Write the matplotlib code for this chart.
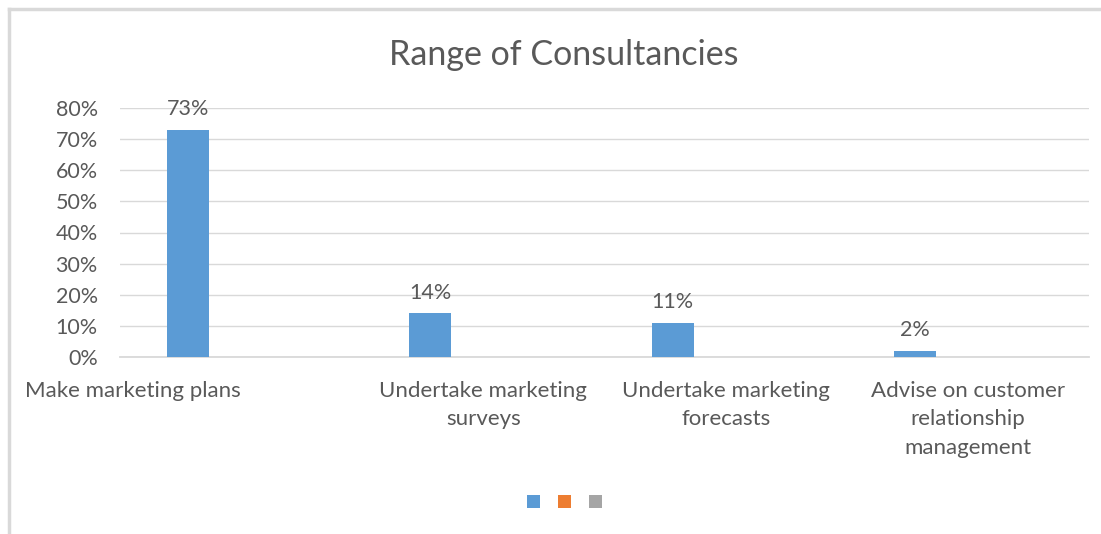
import numpy as np
import matplotlib
matplotlib.use("Agg")
from matplotlib import pyplot as plt
from matplotlib.lines import Line2D
from matplotlib.patches import Rectangle

plt.rcParams['font.family'] = ['Lato', 'DejaVu Sans']

categories = ['Make marketing plans',
              'Undertake marketing\nsurveys',
              'Undertake marketing\nforecasts',
              'Advise on customer\nrelationship\nmanagement']
values = [0.73, 0.14, 0.11, 0.02]
value_labels = ['73%', '14%', '11%', '2%']
yticks = [0, 0.1, 0.2, 0.3, 0.4, 0.5, 0.6, 0.7, 0.8]
ytick_labels = ['0%', '10%', '20%', '30%', '40%', '50%', '60%', '70%', '80%']
legend_colors = ['#5b9bd5', '#ed7d31', '#a5a5a5']

text_color = '#595959'
grid_color = '#d9d9d9'

fig = plt.figure(figsize=(11.01, 5.34), dpi=100)
ax = fig.add_axes([120 / 1101, 1 - 357 / 534, (1089 - 120) / 1101, (357 - 108) / 534])

x = np.arange(len(categories))
bar_w = 42 / 242
offset = -53 / 242
ax.bar(x + offset, values, width=bar_w, color=legend_colors[0], zorder=3)

for xi, v, lab in zip(x, values, value_labels):
    ax.text(xi + offset, v + 0.035, lab, ha='center', va='bottom',
            fontsize=15.5, color=text_color)

ax.set_xlim(-0.5, len(categories) - 0.5)
ax.set_ylim(0, 0.8)
ax.set_yticks(yticks)
ax.set_yticklabels(ytick_labels, fontsize=15.5, color=text_color)
ax.set_xticks(x)
ax.set_xticklabels(categories, fontsize=16, color=text_color, linespacing=1.55)
ax.get_xticklabels()[0].set_horizontalalignment('right')

ax.tick_params(axis='both', length=0)
ax.tick_params(axis='y', pad=16)
ax.tick_params(axis='x', pad=17)
ax.grid(axis='y', color=grid_color, linewidth=1, zorder=0)
for s in ['top', 'right', 'left']:
    ax.spines[s].set_visible(False)
ax.spines['bottom'].set_color(grid_color)
ax.spines['bottom'].set_linewidth(1.3)

fig.text(564 / 1101, 1 - 55 / 534, 'Range of Consultancies', ha='center', va='center',
         fontsize=24.5, color=text_color)

# legend squares without labels
for i, c in enumerate(legend_colors):
    cx = 534 + i * 31
    fig.add_artist(Rectangle(((cx - 7) / 1101, 1 - 508 / 534), 13 / 1101, 13 / 534,
                             transform=fig.transFigure, color=c, lw=0))

# chart frame
fig.add_artist(Line2D([9 / 1101, 9 / 1101], [0, 1 - 9 / 534], transform=fig.transFigure,
                      color='#d9d9d9', linewidth=2.5))
fig.add_artist(Line2D([9 / 1101, 1], [1 - 9 / 534, 1 - 9 / 534], transform=fig.transFigure,
                      color='#d9d9d9', linewidth=2.5))

fig.savefig('out.png', dpi=100)
